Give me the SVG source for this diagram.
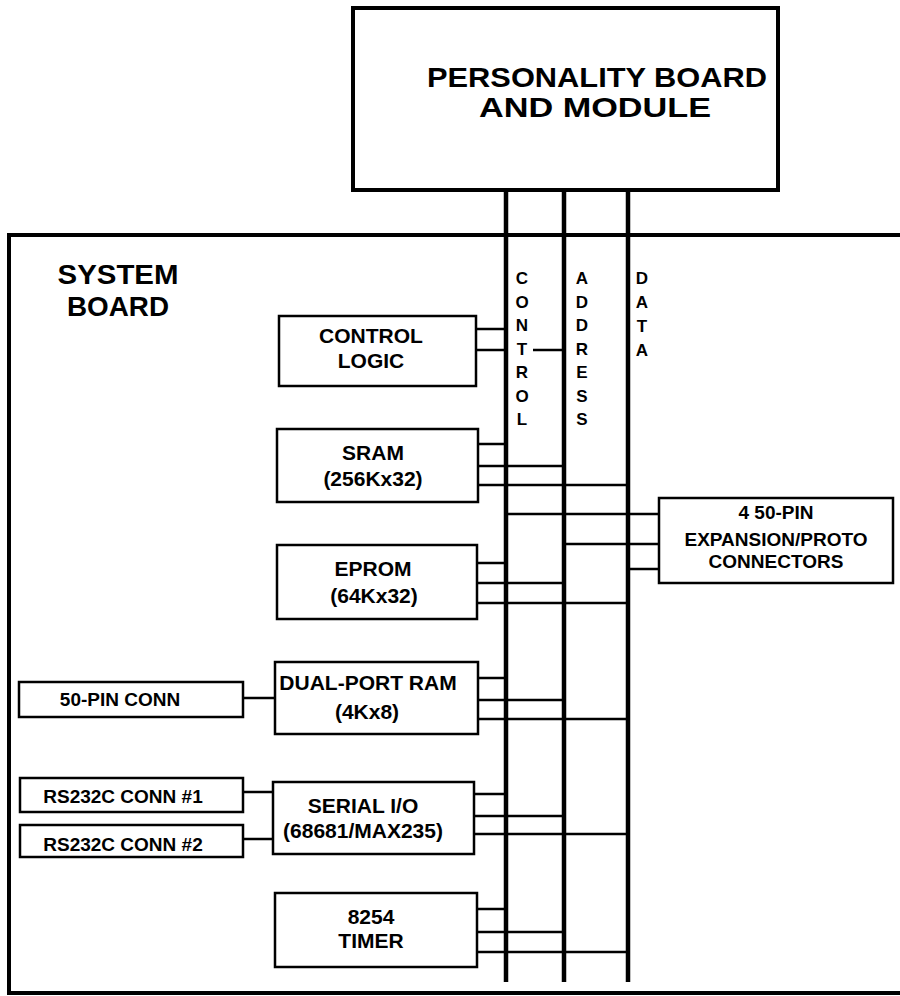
<svg xmlns="http://www.w3.org/2000/svg" width="900" height="996" viewBox="0 0 900 996">
<style>
text{font-family:"Liberation Sans",Arial,sans-serif;font-weight:bold;fill:#000;text-anchor:middle}
.big{font-size:28px}
.top{font-size:28px}
.box{font-size:21px}
.sm{font-size:19px}
.bus{font-size:17px}
.node{fill:#fff;stroke:#000;stroke-width:2.5}
.frame{fill:none;stroke:#000;stroke-width:4}
.busl{stroke:#000;stroke-width:4.5;fill:none}
.wire{stroke:#000;stroke-width:2.5;fill:none}
</style>
<rect x="0" y="0" width="900" height="996" fill="#fff"/>
<g id="system-board">
<rect class="frame" x="9" y="235" width="900" height="758"/>
<text class="big" x="118" y="284" textLength="121" lengthAdjust="spacingAndGlyphs">SYSTEM</text>
<text class="big" x="118" y="315.5" textLength="102" lengthAdjust="spacingAndGlyphs">BOARD</text>
</g>
<g id="personality-board">
<rect class="frame" x="353" y="8" width="425" height="182"/>
<text class="top" x="597" y="87" textLength="340" lengthAdjust="spacingAndGlyphs">PERSONALITY BOARD</text>
<text class="top" x="595" y="117" textLength="232" lengthAdjust="spacingAndGlyphs">AND  MODULE</text>
</g>
<g id="connectors">
<path class="busl" d="M506 190V982M564 190V982M628 190V982"/>
<path class="wire" d="M476 329H506M476 350H506M533 350H564"/>
<path class="wire" d="M478 444H506M478 466H564M478 485H628"/>
<path class="wire" d="M506 514H659M564 544H659M628 569H659"/>
<path class="wire" d="M477 563H506M477 583H564M477 603H628"/>
<path class="wire" d="M478 678H506M478 700H564M478 719H628"/>
<path class="wire" d="M474 794H506M474 816H564M474 834H628"/>
<path class="wire" d="M477 909H506M477 932H564M477 952H628"/>
<path class="wire" d="M243 698H275M243 792H273M243 839H273"/>
</g>
<g id="bus-labels">
<text class="bus" x="522" y="284">C</text>
<text class="bus" x="522" y="307.5">O</text>
<text class="bus" x="522" y="331">N</text>
<text class="bus" x="522" y="354.5">T</text>
<text class="bus" x="522" y="378">R</text>
<text class="bus" x="522" y="401.5">O</text>
<text class="bus" x="522" y="425">L</text>
<text class="bus" x="582" y="284">A</text>
<text class="bus" x="582" y="307.5">D</text>
<text class="bus" x="582" y="331">D</text>
<text class="bus" x="582" y="354.5">R</text>
<text class="bus" x="582" y="378">E</text>
<text class="bus" x="582" y="401.5">S</text>
<text class="bus" x="582" y="425">S</text>
<text class="bus" x="642" y="284">D</text>
<text class="bus" x="642" y="308">A</text>
<text class="bus" x="642" y="332">T</text>
<text class="bus" x="642" y="356">A</text>
</g>
<g id="control-logic">
<rect class="node" x="279" y="316" width="197" height="70"/>
<text class="box" x="371" y="343">CONTROL</text>
<text class="box" x="371" y="368">LOGIC</text>
</g>
<g id="sram">
<rect class="node" x="277" y="429" width="201" height="73"/>
<text class="box" x="373" y="460">SRAM</text>
<text class="box" x="373" y="486">(256Kx32)</text>
</g>
<g id="expansion">
<rect class="node" x="659" y="498" width="234" height="85"/>
<text class="sm" x="776" y="519" font-size="18.5">4 50-PIN</text>
<text class="sm" x="776" y="546" font-size="18.5">EXPANSION/PROTO</text>
<text class="sm" x="776" y="568" font-size="18.5">CONNECTORS</text>
</g>
<g id="eprom">
<rect class="node" x="277" y="545" width="200" height="74"/>
<text class="box" x="373" y="576">EPROM</text>
<text class="box" x="374" y="603">(64Kx32)</text>
</g>
<g id="dual-port-ram">
<rect class="node" x="275" y="662" width="203" height="72"/>
<text class="box" x="368" y="690">DUAL-PORT RAM</text>
<text class="box" x="367" y="719">(4Kx8)</text>
</g>
<g id="pin50-conn">
<rect class="node" x="19" y="682" width="224" height="35"/>
<text class="sm" x="120" y="706">50-PIN CONN</text>
</g>
<g id="serial-io">
<rect class="node" x="273" y="782" width="201" height="72"/>
<text class="box" x="363" y="813">SERIAL I/O</text>
<text class="box" x="363" y="838">(68681/MAX235)</text>
</g>
<g id="rs232-1">
<rect class="node" x="20" y="778" width="223" height="34"/>
<text class="sm" x="123" y="803">RS232C CONN #1</text>
</g>
<g id="rs232-2">
<rect class="node" x="20" y="825" width="223" height="32"/>
<text class="sm" x="123" y="851">RS232C CONN #2</text>
</g>
<g id="timer">
<rect class="node" x="275" y="893" width="202" height="74"/>
<text class="box" x="371" y="924">8254</text>
<text class="box" x="371" y="948">TIMER</text>
</g>
</svg>
